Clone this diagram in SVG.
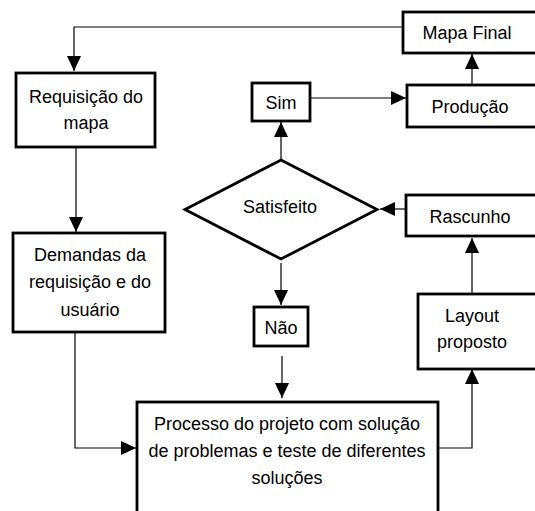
<svg xmlns="http://www.w3.org/2000/svg" width="535" height="511" viewBox="0 0 535 511">
<defs>
<style>
.box{fill:#fff;stroke:#000;stroke-width:2.8}
.ln{fill:none;stroke:#000;stroke-width:1.2}
text{font-family:"Liberation Sans",Arial,sans-serif;font-size:18px;fill:#000;text-anchor:middle}
</style>
<marker id="ah" markerUnits="userSpaceOnUse" markerWidth="16" markerHeight="14" refX="15" refY="7" orient="auto">
<path d="M0,0 L15,7 L0,14 Z" fill="#000"/>
</marker>
</defs>
<rect width="535" height="511" fill="#fff"/>
<g id="connectors">
<path class="ln" d="M404,27 H74 V71" marker-end="url(#ah)"/>
<path class="ln" d="M76,147 V232" marker-end="url(#ah)"/>
<path class="ln" d="M75,332 V448 H136" marker-end="url(#ah)"/>
<path class="ln" d="M281,160 V122" marker-end="url(#ah)"/>
<path class="ln" d="M310,98 H406" marker-end="url(#ah)"/>
<path class="ln" d="M472,85 V54" marker-end="url(#ah)"/>
<path class="ln" d="M406,209 H380" marker-end="url(#ah)"/>
<path class="ln" d="M281,263 V305" marker-end="url(#ah)"/>
<path class="ln" d="M282,356 V398" marker-end="url(#ah)"/>
<path class="ln" d="M438,448 H472 V369" marker-end="url(#ah)"/>
<path class="ln" d="M472,294 V238" marker-end="url(#ah)"/>
</g>
<g id="mapa-final">
<rect class="box" x="403" y="12" width="140" height="41"/>
<text x="467" y="39">Mapa Final</text>
</g>
<g id="requisicao">
<rect class="box" x="16" y="73" width="139" height="74"/>
<text x="86" y="103">Requisição do</text>
<text x="86" y="129">mapa</text>
</g>
<g id="sim">
<rect class="box" x="252" y="83" width="58" height="38"/>
<text x="281" y="109">Sim</text>
</g>
<g id="producao">
<rect class="box" x="407" y="85" width="136" height="42"/>
<text x="470" y="113">Produção</text>
</g>
<g id="satisfeito">
<polygon class="box" points="281,160 377,209.5 281,259 185,209.5"/>
<text x="280" y="213">Satisfeito</text>
</g>
<g id="rascunho">
<rect class="box" x="406" y="195" width="137" height="41"/>
<text x="470" y="223">Rascunho</text>
</g>
<g id="demandas">
<rect class="box" x="13" y="233" width="152" height="99"/>
<text x="90" y="261">Demandas da</text>
<text x="90" y="288">requisição e do</text>
<text x="90" y="316">usuário</text>
</g>
<g id="nao">
<rect class="box" x="254" y="307" width="54" height="39"/>
<text x="281" y="334">Não</text>
</g>
<g id="layout">
<rect class="box" x="418" y="294" width="125" height="75"/>
<text x="472" y="322">Layout</text>
<text x="472" y="348">proposto</text>
</g>
<g id="processo">
<rect class="box" x="137" y="402" width="301" height="130"/>
<text x="287" y="430">Processo do projeto com solução</text>
<text x="287" y="457">de problemas e teste de diferentes</text>
<text x="287" y="484">soluções</text>
</g>
</svg>
